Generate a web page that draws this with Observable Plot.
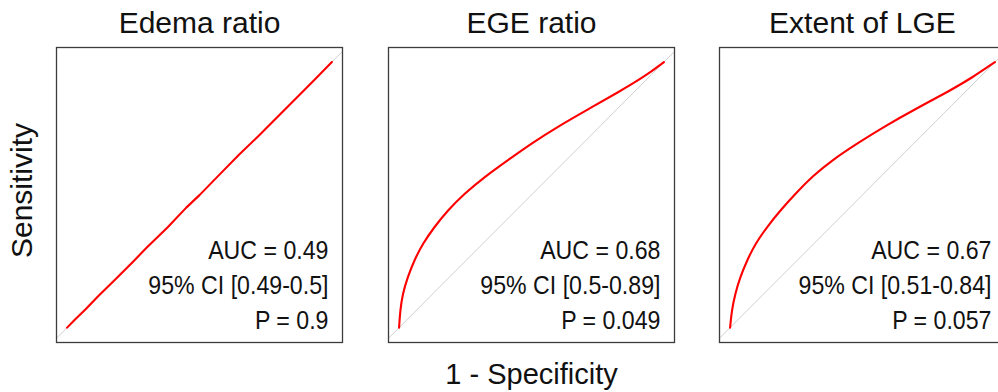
<!DOCTYPE html>
<html><head><meta charset="utf-8">
<script src="https://cdn.jsdelivr.net/npm/d3@7"></script>
<script src="https://cdn.jsdelivr.net/npm/@observablehq/plot@0.6"></script>
<style>
html,body{margin:0;padding:0;background:#fff;overflow:hidden;}
#chart{width:998px;height:392px;overflow:hidden;display:flex;flex-wrap:nowrap;}
#chart svg{display:block;flex:none;}
</style></head><body><div id="chart"></div>
<script>
const panels = ["Edema ratio", "EGE ratio", "Extent of LGE"];

const edemaFpr = [0, 0.03, 0.07, 0.12, 0.18, 0.25, 0.3, 0.38, 0.45, 0.5, 0.58, 0.65, 0.72, 0.8, 0.88, 0.94, 1];
const edemaTpr = [0, 0.031, 0.069, 0.121, 0.179, 0.249, 0.301, 0.378, 0.452, 0.499, 0.581, 0.652, 0.719, 0.799, 0.879, 0.939, 1];

const egeFpr = [0, 0.004, 0.013, 0.032, 0.057, 0.089, 0.133, 0.184, 0.247, 0.323, 0.411, 0.5, 0.601, 0.715, 0.83, 0.925, 1];
const egeTpr = [0, 0.063, 0.126, 0.189, 0.253, 0.316, 0.379, 0.442, 0.505, 0.568, 0.631, 0.694, 0.758, 0.823, 0.888, 0.944, 1];

const lgeFpr = [0, 0.006, 0.019, 0.038, 0.064, 0.095, 0.14, 0.191, 0.248, 0.311, 0.388, 0.483, 0.585, 0.699, 0.826, 0.915, 1];
const lgeTpr = [0, 0.063, 0.127, 0.19, 0.253, 0.316, 0.38, 0.443, 0.506, 0.57, 0.633, 0.696, 0.759, 0.823, 0.89, 0.942, 1];

const aucLabels = ["AUC = 0.49", "AUC = 0.68", "AUC = 0.67"];
const ciLabels = ["95% CI [0.49-0.5]", "95% CI [0.5-0.89]", "95% CI [0.51-0.84]"];
const pLabels = ["P = 0.9", "P = 0.049", "P = 0.057"];

const xLabel = "1 - Specificity";
const yLabel = "Sensitivity";
const diagonal = [-0.1, 1.1];

const fprs = [edemaFpr, egeFpr, lgeFpr];
const tprs = [edemaTpr, egeTpr, lgeTpr];
const curves = ["linear", "basis", "basis"];

const layout = [
  {width: 365, marginLeft: 56, marginRight: 23},
  {width: 331, marginLeft: 23, marginRight: 22},
  {width: 310, marginLeft: 23, marginRight: 1}
];

const font = "'Liberation Sans', Arial, Helvetica, sans-serif";
const container = document.getElementById("chart");
const narrow = 0.89;

panels.forEach((name, i) => {
  const L = layout[i];
  const pts = fprs[i].map((f, j) => ({fpr: f, tpr: tprs[i][j]}));
  const marks = [
    Plot.line(diagonal, {x: d => d, y: d => d, stroke: "#c4c4c4", strokeWidth: 0.8, clip: true}),
    Plot.line(pts, {x: "fpr", y: "tpr", stroke: "#ff0000", strokeWidth: 2.1, curve: curves[i]}),
    Plot.frame({stroke: "#3c3c3c", strokeWidth: 1.3}),
    Plot.text([name], {text: d => d, frameAnchor: "top", lineAnchor: "bottom", dy: -14.6, fontSize: 30, fill: "#111"}),
    Plot.text([[aucLabels[i], ciLabels[i], pLabels[i]].join("\n")], {
      text: d => d, frameAnchor: "bottom-right", textAnchor: "end", lineAnchor: "bottom",
      dx: -14, dy: -13.4, fontSize: 26, lineHeight: 1.346, fill: "#111", ariaLabel: () => "stats"
    })
  ];
  if (i === 1) marks.push(Plot.text([xLabel], {text: d => d, frameAnchor: "bottom", textAnchor: "middle", lineAnchor: "bottom", dy: 41, fontSize: 29, fill: "#111"}));
  if (i === 0) marks.push(Plot.text([yLabel], {text: d => d, frameAnchor: "left", textAnchor: "middle", rotate: -90, dx: -34.3, dy: -4.5, fontSize: 30, fill: "#111"}));

  const chart = Plot.plot({
    width: L.width,
    height: 392,
    marginLeft: L.marginLeft,
    marginRight: L.marginRight,
    marginTop: 47,
    marginBottom: 50,
    x: {domain: [-0.04, 1.04], axis: null},
    y: {domain: [-0.056, 1.055], axis: null},
    style: {fontFamily: font, background: "white", color: "#111", overflow: "visible"},
    marks
  });
  // condensed lettering for the statistics block, scaled about its right edge
  const px = L.width - L.marginRight - 14;
  d3.select(chart).selectAll('text[aria-label="stats"]').each(function() {
    const g = this.parentNode;
    const wrap = document.createElementNS("http://www.w3.org/2000/svg", "g");
    wrap.setAttribute("transform", `translate(${px},0) scale(${narrow},1) translate(${-px},0)`);
    g.parentNode.insertBefore(wrap, g);
    wrap.appendChild(g);
  });
  container.appendChild(chart);
});
</script>
</body></html>
